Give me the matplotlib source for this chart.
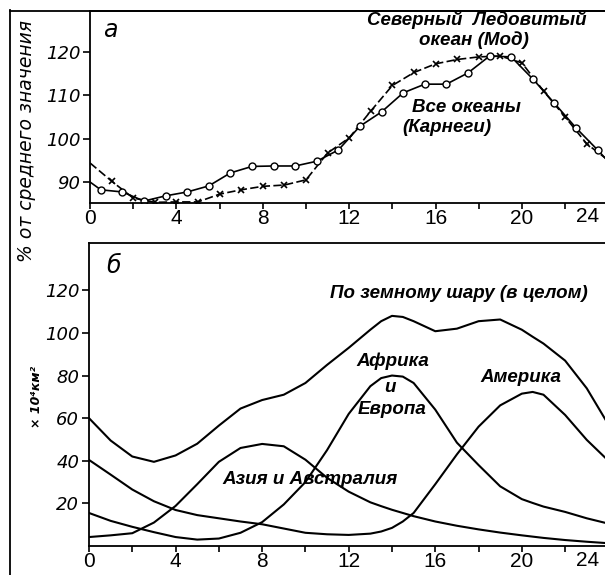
import matplotlib
matplotlib.use("Agg")
import matplotlib.pyplot as plt
from matplotlib.lines import Line2D

# ---------------- data ----------------
# panel a: % of mean value
carnegie_hours = [0, 0.5, 1.5, 2.5, 3.5, 4.5, 5.5, 6.5, 7.5, 8.5, 9.5, 10.5, 11.5,
                  12.5, 13.5, 14.5, 15.5, 16.5, 17.5, 18.5, 19.5, 20.5, 21.5, 22.5, 23.5, 24]
carnegie_vals = [90, 88.2, 87.7, 85.6, 86.8, 87.7, 89.1, 92.1, 93.6, 93.7, 93.7, 94.8, 97.4,
                 102.9, 106.2, 110.6, 112.6, 112.6, 115.2, 119.1, 118.9, 113.8, 108.2, 102.5, 97.4, 94.7]
maud_hours = list(range(0, 25))
maud_vals = [94.4, 90.2, 86.3, 85.3, 85.4, 85.4, 87.2, 88.2, 89.0, 89.3, 90.5, 96.7, 100.2,
             106.4, 112.3, 115.3, 117.3, 118.3, 118.9, 119.1, 117.5, 111.0, 105.0, 98.8, 95.0]

# panel b: x10^4 km^2
hours_b = [0, 1, 2, 3, 4, 5, 6, 7, 8, 9, 10, 11, 12, 13, 13.5, 14, 14.5, 15, 16, 17, 18,
           19, 20, 20.5, 21, 22, 23, 24]
total_vals = [60, 49.5, 42, 39.5, 42.5, 48, 56.5, 64.5, 68.5, 71, 76.5, 85, 93,
              101.5, 105.5, 108, 107.5, 105.5, 100.8, 102, 105.5, 106.3, 101.5, 98.2, 95, 87, 74, 57]
asia_vals = [4.2, 5, 6, 11, 18.8, 29, 39.5, 46, 47.9, 46.8, 40.5, 32, 25.5,
             20.5, 18.7, 17, 15.5, 14, 11.5, 9.5, 7.8, 6.3, 5, 4.4, 3.8, 2.8, 2, 1.3]
africa_vals = [15.5, 11.8, 9, 6.5, 4.2, 3, 3.5, 6.2, 11.2, 19.5, 30, 45, 62,
               75, 78.8, 80, 79.5, 76.5, 64, 48.5, 38, 28, 22, 20.2, 18.5, 16, 13, 10.5]
america_vals = [40.4, 33.5, 26.5, 21, 16.9, 14.5, 13, 11.5, 10.2, 8.2, 6.2, 5.5, 5.2,
                5.8, 6.8, 8.5, 11.5, 15.5, 29, 43, 56, 66, 71.5, 72.3, 71, 61.5, 49.8, 40]

xticks = list(range(0, 24, 2))
xticklabels = ["0", "", "4", "", "8", "", "12", "", "16", "", "20", ""]
yticks_a = [90, 100, 110, 120]
yticks_b = [20, 40, 60, 80, 100, 120]

# ---------------- figure ----------------
W, H = 605, 575
fig = plt.figure(figsize=(W / 100, H / 100), dpi=100)

tick_font = dict(family=["Liberation Sans", "DejaVu Sans"], size=15)
ytick_font = dict(family="DejaVu Sans", style="italic", size=13)
ann_font = dict(family=["Liberation Sans", "DejaVu Sans"], style="italic", weight="bold", size=13.5)


def setup(ax, ylim, yticks):
    ax.set_xlim(0, 515 / 21.6)
    ax.set_ylim(*ylim)
    ax.spines["right"].set_visible(False)
    for s in ["left", "top", "bottom"]:
        ax.spines[s].set_linewidth(1.3)
    ax.set_xticks(xticks)
    ax.set_xticklabels(xticklabels, fontdict=tick_font)
    ax.set_yticks(yticks)
    ax.set_yticklabels([str(v) for v in yticks], fontdict=ytick_font)
    ax.tick_params(axis="x", direction="out", length=4, width=1.2, pad=0.5)
    ax.tick_params(axis="y", direction="out", length=5, width=1.2, pad=2)
    ax.annotate("24", xy=(23.05, 0), xycoords=ax.get_xaxis_transform(),
                xytext=(0, -4.5), textcoords="offset pixels", ha="center", va="top",
                annotation_clip=False, **tick_font)


# panel a
ax1 = fig.add_axes([90 / W, (H - 203) / H, (W - 90) / W, (203 - 11) / H])
setup(ax1, (85.15, 129.5), yticks_a)
ax1.plot(maud_hours, maud_vals, color="black", lw=1.2, dashes=(5, 2),
         marker="x", ms=5, mew=1.2, markevery=list(range(1, 24)))
ax1.plot(carnegie_hours, carnegie_vals, color="black", lw=1.2,
         marker="o", ms=5, mfc="white", mec="black", mew=1.0,
         markevery=list(range(1, 25)))
fig.text(110 / W, 1 - 30 / H, "а", fontsize=17, style="italic",
         ha="center", va="center", family="DejaVu Sans")
fig.text(477 / W, 1 - 20 / H, "Северный  Ледовитый", ha="center", va="center", **ann_font)
fig.text(474 / W, 1 - 40 / H, "океан (Мод)", ha="center", va="center", **ann_font)
fig.text(466 / W, 1 - 108 / H, "Все океаны", ha="center", va="center", **ann_font)
fig.text(447 / W, 1 - 127 / H, "(Карнеги)", ha="center", va="center", **ann_font)

# panel b
ax2 = fig.add_axes([89 / W, (H - 546) / H, (W - 89) / W, (546 - 243) / H])
setup(ax2, (0, 142.2), yticks_b)
for vals in (total_vals, asia_vals, africa_vals, america_vals):
    ax2.plot(hours_b, vals, color="black", lw=1.5, solid_joinstyle="round")
fig.text(114 / W, 1 - 266 / H, "б", fontsize=17, style="italic",
         ha="center", va="center", family="DejaVu Sans")
fig.text(459 / W, 1 - 293 / H, "По земному шару (в целом)", ha="center", va="center", **ann_font)
fig.text(393 / W, 1 - 361 / H, "Африка", ha="center", va="center", **ann_font)
fig.text(390 / W, 1 - 388 / H, "и", ha="center", va="center", **ann_font)
fig.text(392 / W, 1 - 410 / H, "Европа", ha="center", va="center", **ann_font)
fig.text(521 / W, 1 - 377 / H, "Америка", ha="center", va="center", **ann_font)
fig.text(310 / W, 1 - 479 / H, "Азия и Австралия", ha="center", va="center", **ann_font)

# axis titles
fig.text(27 / W, 1 - 141 / H, "% от среднего значения", rotation=90, ha="center", va="center",
         family="DejaVu Sans", style="italic", fontsize=13.5)
fig.text(37 / W, 1 - 397 / H, "× 10⁴км²", rotation=90, ha="center", va="center",
         family="DejaVu Sans", style="italic", weight="bold", fontsize=9)

# outer frame
fig.add_artist(Line2D([10 / W, 10 / W], [0, 1 - 10 / H], color="black", lw=1.3))
fig.add_artist(Line2D([10 / W, 1], [1 - 10.5 / H, 1 - 10.5 / H], color="black", lw=1.3))

fig.savefig("out.png", dpi=100)
